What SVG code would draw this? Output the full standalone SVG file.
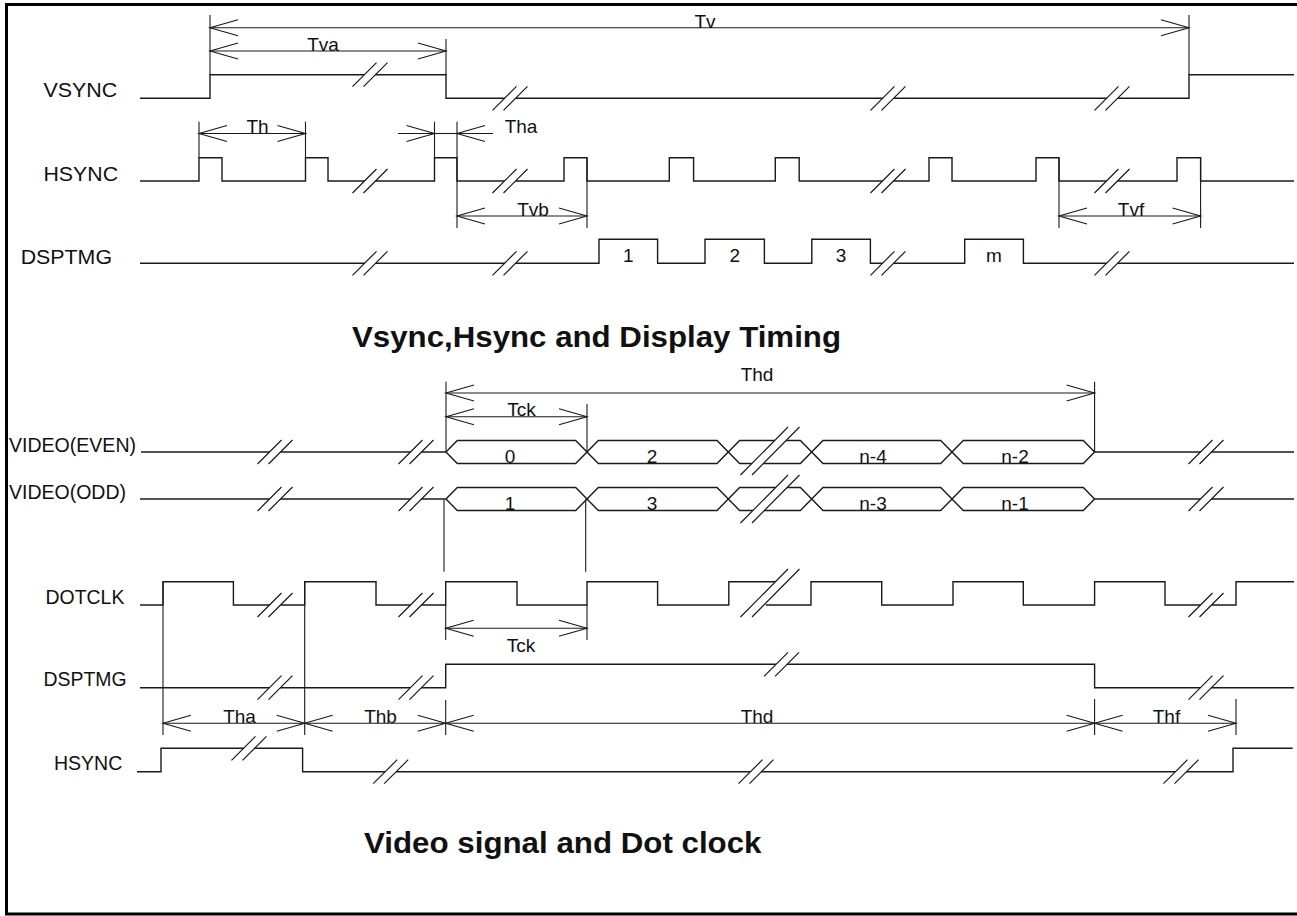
<svg xmlns="http://www.w3.org/2000/svg" xmlns:xlink="http://www.w3.org/1999/xlink" width="1297" height="916" viewBox="0 0 1297 916">
<style>
.s{fill:none;stroke:#1a1a1a;stroke-width:1.4}
.d{fill:none;stroke:#1a1a1a;stroke-width:1.1}
.b{fill:none;stroke:#1a1a1a;stroke-width:1.2}
.frame{fill:none;stroke:#000;stroke-width:3}
text{font-family:"Liberation Sans",Arial,sans-serif;fill:#111}
.l{font-size:19.5px}
.t{font-size:19px;text-anchor:middle}
.h{font-size:30px;font-weight:bold}
</style>
<defs>
<marker id="ar" markerUnits="userSpaceOnUse" markerWidth="30" markerHeight="18" refX="0" refY="0" orient="auto-start-reverse" overflow="visible">
<path d="M-28,-8 L0,0 L-28,8" fill="none" stroke="#1a1a1a" stroke-width="1.1"/>
</marker>
<g id="bk"><polygon points="-17.5,12 6.5,-12 17.5,-12 -6.5,12" fill="#fff"/><path class="b" d="M-17.5,12 L6.5,-12 M-6.5,12 L17.5,-12"/></g>
<g id="bkL"><polygon points="-29.5,24 18,-24 29.5,-24 -18,24" fill="#fff"/><path class="b" d="M-29.5,24 L18,-24 M-18,24 L29.5,-24"/></g>
</defs>
<rect width="1297" height="916" fill="#fff"/>
<path class="frame" d="M1297,4.5 H6.5 V914 H1297"/>

<g id="vsync">
<text class="l" x="43.5" y="97" textLength="73.8" lengthAdjust="spacingAndGlyphs">VSYNC</text>
<path class="s" d="M140,98.3 H210 V74.7 H446 V98.3 H1189 V74.7 H1294"/>
<use href="#bk" x="370" y="74.7"/>
<use href="#bk" x="510" y="98.3"/>
<use href="#bk" x="888" y="98.3"/>
<use href="#bk" x="1112" y="98.3"/>
</g>

<g id="hsync-top">
<text class="l" x="43.5" y="181" textLength="74.5" lengthAdjust="spacingAndGlyphs">HSYNC</text>
<path class="s" d="M140,181 H199 V157.7 H222 V181 H305.5 V157.7 H328 V181 H434.5 V157.7 H457 V181 H564 V157.7 H587 V181 H669.3 V157.7 H693.6 V181 H775.3 V157.7 H799.2 V181 H929 V157.7 H952 V181 H1036 V157.7 H1059 V181 H1177 V157.7 H1200.6 V181 H1294"/>
<use href="#bk" x="370" y="181"/>
<use href="#bk" x="510" y="181"/>
<use href="#bk" x="888" y="181"/>
<use href="#bk" x="1112" y="181"/>
</g>

<g id="dsptmg-top">
<text class="l" x="20.7" y="264" textLength="91.3" lengthAdjust="spacingAndGlyphs">DSPTMG</text>
<path class="s" d="M140,263.3 H599 V239.3 H657.6 V263.3 H705 V239.3 H764.4 V263.3 H811.8 V239.3 H870.4 V263.3 H964.7 V239.3 H1023.4 V263.3 H1294"/>
<use href="#bk" x="370" y="263.3"/>
<use href="#bk" x="510" y="263.3"/>
<use href="#bk" x="888" y="263.3"/>
<use href="#bk" x="1112" y="263.3"/>
<text class="t" x="628.3" y="262">1</text>
<text class="t" x="734.7" y="262">2</text>
<text class="t" x="841.1" y="262">3</text>
<text class="t" x="994" y="262">m</text>
</g>

<g id="title1">
<text class="h" x="352" y="346.5" textLength="489" lengthAdjust="spacingAndGlyphs">Vsync,Hsync and Display Timing</text>
</g>

<g id="video-even">
<text class="l" x="9" y="452" textLength="127" lengthAdjust="spacingAndGlyphs">VIDEO(EVEN)</text>
<path class="s" d="M141,452 H446 M1094.6,452 H1294"/>
<path class="s" d="M446,452 L457.3,440.5 H575.7 L598.3,463.5 H717 L739.6,440.5 H800.4 L823,463.5 H940.7 L963.3,440.5 H1083.3 L1094.6,452"/>
<path class="s" d="M446,452 L457.3,463.5 H575.7 L598.3,440.5 H717 L739.6,463.5 H800.4 L823,440.5 H940.7 L963.3,463.5 H1083.3 L1094.6,452"/>
<use href="#bk" x="275" y="452"/>
<use href="#bk" x="416" y="452"/>
<use href="#bk" x="1206" y="452"/>
<text class="t" x="510" y="463">0</text>
<text class="t" x="652" y="463">2</text>
<text class="t" x="873" y="463">n-4</text>
<text class="t" x="1015" y="463">n-2</text>
</g>

<g id="video-odd">
<text class="l" x="9" y="498.5" textLength="117" lengthAdjust="spacingAndGlyphs">VIDEO(ODD)</text>
<path class="s" d="M140,499 H446 M1094.6,499 H1294"/>
<path class="s" d="M446,499 L457.3,487.5 H575.7 L598.3,510.5 H717 L739.6,487.5 H800.4 L823,510.5 H940.7 L963.3,487.5 H1083.3 L1094.6,499"/>
<path class="s" d="M446,499 L457.3,510.5 H575.7 L598.3,487.5 H717 L739.6,510.5 H800.4 L823,487.5 H940.7 L963.3,510.5 H1083.3 L1094.6,499"/>
<use href="#bk" x="275" y="499"/>
<use href="#bk" x="416" y="499"/>
<use href="#bk" x="1206" y="499"/>
<text class="t" x="510" y="510">1</text>
<text class="t" x="652" y="510">3</text>
<text class="t" x="873" y="510">n-3</text>
<text class="t" x="1015" y="510">n-1</text>
</g>

<g id="video-breaks">
<use href="#bkL" x="770" y="451"/>
<use href="#bkL" x="770" y="499"/>
</g>

<g id="dotclk">
<text class="l" x="45.6" y="604" textLength="78.8" lengthAdjust="spacingAndGlyphs">DOTCLK</text>
<path class="s" d="M140,605 H163 V581.7 H233.4 V605 H304.7 V581.7 H376 V605 H445.7 V581.7 H517 V605 H587 V581.7 H657.6 V605 H728.8 V581.7 H776 M765.8,605 H811 V581.7 H881.7 V605 H953 V581.7 H1023.3 V605 H1094.6 V581.7 H1165 V605 H1236 V581.7 H1294"/>
<use href="#bk" x="275" y="605"/>
<use href="#bk" x="416" y="605"/>
<use href="#bk" x="1206" y="605"/>
<use href="#bkL" x="770" y="593"/>
</g>

<g id="dsptmg-low">
<text class="l" x="43.5" y="685.5" textLength="83" lengthAdjust="spacingAndGlyphs">DSPTMG</text>
<path class="s" d="M140,687.7 H445.7 V664.3 H1094.6 V687.7 H1294"/>
<use href="#bk" x="275" y="687.7"/>
<use href="#bk" x="416" y="687.7"/>
<use href="#bk" x="781.5" y="664.3"/>
<use href="#bk" x="1206" y="687.7"/>
</g>

<g id="hsync-low">
<text class="l" x="54" y="770" textLength="68.3" lengthAdjust="spacingAndGlyphs">HSYNC</text>
<path class="s" d="M137,771.7 H161 V748.3 H302.6 V771.7 H1233 V748.3 H1292.7"/>
<use href="#bk" x="249" y="748.3"/>
<use href="#bk" x="390.7" y="771.7"/>
<use href="#bk" x="756" y="771.7"/>
<use href="#bk" x="1181" y="771.7"/>
</g>

<g id="title2">
<text class="h" x="364" y="853.3" textLength="397.5" lengthAdjust="spacingAndGlyphs">Video signal and Dot clock</text>
</g>

<g id="connectors">
<!-- extension lines -->
<path class="d" d="M210,15 V74.7 M446,39 V74.7 M1189,15 V74.7
M199,121.7 V157.7 M305.5,121.7 V157.7 M434.5,121.7 V157.7 M457,121.7 V228
M587,157.7 V228 M1059,157.7 V228 M1200.6,157.7 V228
M446,381.7 V452 M1094.6,381.7 V452 M587,404 V452
M444,500 V571.7 M585.7,499 V571.7
M163,581.7 V735 M304.7,581.7 V735
M445.7,605 V640 M587,605 V640
M445.7,700 V735 M1094.6,699 V735 M1236,699 V735"/>
<!-- dimension arrows -->
<line class="d" x1="210" y1="27.7" x2="1189" y2="27.7" marker-start="url(#ar)" marker-end="url(#ar)"/>
<line class="d" x1="210" y1="51" x2="446" y2="51" marker-start="url(#ar)" marker-end="url(#ar)"/>
<line class="d" x1="199" y1="133.5" x2="305.5" y2="133.5" marker-start="url(#ar)" marker-end="url(#ar)"/>
<line class="d" x1="398" y1="133.5" x2="434.5" y2="133.5" marker-end="url(#ar)"/>
<line class="d" x1="434.5" y1="133.5" x2="457" y2="133.5"/>
<line class="d" x1="493" y1="133.5" x2="457" y2="133.5" marker-end="url(#ar)"/>
<line class="d" x1="457" y1="216" x2="587" y2="216" marker-start="url(#ar)" marker-end="url(#ar)"/>
<line class="d" x1="1059" y1="216" x2="1200.6" y2="216" marker-start="url(#ar)" marker-end="url(#ar)"/>
<line class="d" x1="446" y1="393" x2="1094.6" y2="393" marker-start="url(#ar)" marker-end="url(#ar)"/>
<line class="d" x1="446" y1="416.7" x2="587" y2="416.7" marker-start="url(#ar)" marker-end="url(#ar)"/>
<line class="d" x1="445.7" y1="628.3" x2="587" y2="628.3" marker-start="url(#ar)" marker-end="url(#ar)"/>
<line class="d" x1="163" y1="723.3" x2="304.7" y2="723.3" marker-start="url(#ar)" marker-end="url(#ar)"/>
<line class="d" x1="304.7" y1="723.3" x2="445.7" y2="723.3" marker-start="url(#ar)" marker-end="url(#ar)"/>
<line class="d" x1="445.7" y1="723.3" x2="1094.6" y2="723.3" marker-start="url(#ar)" marker-end="url(#ar)"/>
<line class="d" x1="1094.6" y1="723.3" x2="1236" y2="723.3" marker-start="url(#ar)" marker-end="url(#ar)"/>
<!-- dimension labels -->
<text class="t" x="705" y="28">Tv</text>
<text class="t" x="323" y="51">Tva</text>
<text class="t" x="257.5" y="133">Th</text>
<text class="t" x="521" y="133">Tha</text>
<text class="t" x="533" y="216">Tvb</text>
<text class="t" x="1131" y="216">Tvf</text>
<text class="t" x="757" y="380.5">Thd</text>
<text class="t" x="521.5" y="416">Tck</text>
<text class="t" x="521" y="652">Tck</text>
<text class="t" x="239.5" y="722.5">Tha</text>
<text class="t" x="380.5" y="722.5">Thb</text>
<text class="t" x="757" y="722.5">Thd</text>
<text class="t" x="1166.5" y="722.5">Thf</text>
</g>
</svg>
